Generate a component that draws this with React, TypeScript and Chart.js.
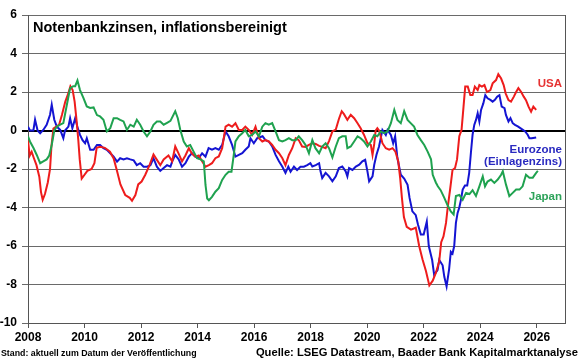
import React, { useEffect, useRef } from "react";
import { Chart, registerables } from "chart.js";

Chart.register(...registerables);

const titleText = "Notenbankzinsen, inflationsbereinigt";
const footerLeft = "Stand: aktuell zum Datum der Veröffentlichung";
const footerRight = "Quelle: LSEG Datastream, Baader Bank Kapitalmarktanalyse";

const xTickYears = [2008, 2010, 2012, 2014, 2016, 2018, 2020, 2022, 2024, 2026];
const yMin = -10;
const yMax = 6;
const yStep = 2;

// [year, value]
const usaSeries: [number, number][] = [
  [2008.0, -0.5], [2008.06, -1.3], [2008.13, -1.1], [2008.2, -1.4], [2008.3, -1.8], [2008.4, -2.4],
  [2008.46, -3.2], [2008.52, -3.6], [2008.6, -3.3], [2008.7, -2.7], [2008.78, -2.0], [2008.83, -0.8],
  [2008.9, 0.1], [2009.0, 0.2], [2009.1, 0.3], [2009.2, 0.8], [2009.32, 1.5], [2009.42, 1.9],
  [2009.5, 2.3], [2009.58, 2.1], [2009.65, 1.5], [2009.72, 0.5], [2009.78, -0.5], [2009.83, -1.5],
  [2009.9, -2.5], [2010.0, -2.3], [2010.1, -2.1], [2010.25, -2.0], [2010.35, -1.7], [2010.43, -0.9],
  [2010.55, -0.85], [2010.72, -0.9], [2010.9, -1.1], [2011.03, -1.45], [2011.15, -2.1], [2011.27, -2.8],
  [2011.44, -3.35], [2011.6, -3.5], [2011.68, -3.65], [2011.8, -3.35], [2011.9, -2.8], [2012.02, -2.65],
  [2012.15, -2.3], [2012.3, -1.8], [2012.44, -1.25], [2012.55, -1.5], [2012.68, -1.8], [2012.8, -1.5],
  [2012.97, -1.3], [2013.1, -1.6], [2013.21, -0.83], [2013.33, -1.2], [2013.45, -1.6], [2013.57, -1.3],
  [2013.69, -0.92], [2013.8, -1.2], [2013.92, -1.36], [2014.04, -1.3], [2014.16, -1.6], [2014.28, -1.88],
  [2014.4, -1.8], [2014.51, -1.7], [2014.63, -1.44], [2014.75, -1.35], [2014.87, -0.92], [2014.99, 0.2],
  [2015.1, 0.3], [2015.22, 0.2], [2015.34, 0.38], [2015.46, 0.03], [2015.58, 0.03], [2015.69, 0.2],
  [2015.81, 0.03], [2015.93, -0.23], [2016.05, 0.2], [2016.17, -0.4], [2016.29, -0.57], [2016.4, -0.5],
  [2016.52, -0.57], [2016.64, -0.75], [2016.76, -1.0], [2016.88, -1.18], [2017.0, -1.44], [2017.11, -1.8],
  [2017.23, -1.27], [2017.35, -0.92], [2017.47, -0.4], [2017.58, -0.5], [2017.7, -0.83], [2017.82, -0.85],
  [2017.94, -0.75], [2018.06, -0.66], [2018.18, -0.7], [2018.3, -0.8], [2018.41, -0.85], [2018.53, -0.92],
  [2018.65, -0.55], [2018.77, -0.05], [2018.89, 0.05], [2019.0, 0.6], [2019.1, 1.0], [2019.18, 0.85],
  [2019.3, 0.55], [2019.42, 0.82], [2019.54, 0.64], [2019.66, 0.38], [2019.77, 0.12], [2019.89, -0.23],
  [2020.01, -0.66], [2020.13, -0.75], [2020.19, -1.27], [2020.25, -0.7], [2020.3, 0.0], [2020.36, 0.12],
  [2020.42, 0.0], [2020.48, -0.3], [2020.54, -0.66], [2020.66, -0.92], [2020.78, -1.0], [2020.9, -0.92],
  [2021.0, -1.1], [2021.1, -1.6], [2021.17, -2.5], [2021.23, -3.5], [2021.3, -4.5], [2021.4, -5.0],
  [2021.55, -5.15], [2021.72, -5.05], [2021.84, -6.0], [2021.96, -6.7], [2022.08, -7.3], [2022.2, -8.05],
  [2022.32, -7.8], [2022.43, -7.4], [2022.55, -6.8], [2022.62, -5.8], [2022.7, -5.5], [2022.79, -4.8],
  [2022.85, -4.0], [2022.94, -3.0], [2023.02, -2.05], [2023.11, -1.95], [2023.18, -1.5], [2023.26, -0.3],
  [2023.34, 0.03], [2023.41, 1.24], [2023.47, 2.28], [2023.56, 2.28], [2023.65, 1.84], [2023.73, 1.84],
  [2023.81, 2.28], [2023.91, 2.1], [2023.97, 2.36], [2024.06, 2.28], [2024.15, 2.36], [2024.24, 2.0],
  [2024.36, 2.1], [2024.44, 2.45], [2024.56, 2.62], [2024.64, 2.93], [2024.74, 2.7], [2024.83, 2.36],
  [2024.9, 1.93], [2025.0, 1.58], [2025.09, 1.5], [2025.19, 1.76], [2025.27, 2.0], [2025.35, 2.2],
  [2025.45, 2.0], [2025.54, 1.76], [2025.62, 1.58], [2025.71, 1.24], [2025.8, 0.98], [2025.88, 1.24],
  [2025.98, 1.07],
];

const eurozoneSeries: [number, number][] = [
  [2008.0, 0.2], [2008.07, 0.0], [2008.19, 0.0], [2008.25, 0.56], [2008.34, 0.0], [2008.43, -0.14],
  [2008.54, 0.03], [2008.66, 0.3], [2008.78, 0.82], [2008.84, 1.34], [2008.93, 0.56], [2009.02, 0.2],
  [2009.14, 0.03], [2009.25, -0.4], [2009.31, 0.0], [2009.43, 0.2], [2009.49, 0.64], [2009.57, 0.12],
  [2009.67, 0.64], [2009.76, 0.12], [2009.84, -0.23], [2009.93, -0.5], [2010.02, -0.66], [2010.08, -0.4],
  [2010.2, -1.0], [2010.32, -1.0], [2010.44, -0.75], [2010.55, -0.75], [2010.67, -0.92], [2010.79, -1.0],
  [2010.91, -1.18], [2011.03, -1.36], [2011.15, -1.62], [2011.26, -1.44], [2011.38, -1.5], [2011.5, -1.44],
  [2011.62, -1.5], [2011.74, -1.55], [2011.85, -1.8], [2011.97, -1.7], [2012.09, -1.88], [2012.21, -1.88],
  [2012.33, -1.8], [2012.44, -1.44], [2012.56, -1.88], [2012.68, -2.1], [2012.8, -1.95], [2012.92, -1.8],
  [2013.04, -1.88], [2013.1, -1.62], [2013.21, -1.27], [2013.33, -1.5], [2013.45, -1.88], [2013.57, -1.7],
  [2013.69, -1.36], [2013.8, -1.18], [2013.92, -1.36], [2014.04, -1.44], [2014.16, -1.18], [2014.28, -1.36],
  [2014.39, -0.92], [2014.51, -1.0], [2014.63, -0.92], [2014.75, -1.0], [2014.87, -0.75], [2014.99, -0.05],
  [2015.1, -0.3], [2015.22, -0.75], [2015.34, -1.36], [2015.46, -1.27], [2015.58, -1.18], [2015.69, -1.0],
  [2015.81, -0.83], [2015.87, -0.4], [2015.99, -0.66], [2016.11, -0.4], [2016.3, -0.3], [2016.4, -0.5],
  [2016.52, -0.57], [2016.64, -0.83], [2016.76, -1.27], [2016.88, -1.6], [2017.0, -1.88], [2017.11, -2.2],
  [2017.21, -1.88], [2017.29, -2.14], [2017.41, -1.88], [2017.52, -2.05], [2017.64, -1.88], [2017.76, -1.88],
  [2017.88, -1.8], [2017.99, -1.7], [2018.06, -1.87], [2018.18, -1.8], [2018.3, -1.7], [2018.35, -2.12],
  [2018.41, -2.47], [2018.53, -2.2], [2018.65, -2.38], [2018.77, -2.64], [2018.89, -2.38], [2019.0, -1.95],
  [2019.12, -1.87], [2019.24, -2.12], [2019.3, -2.38], [2019.36, -1.95], [2019.48, -2.05], [2019.6, -1.87],
  [2019.72, -1.78], [2019.83, -1.6], [2019.93, -1.52], [2020.01, -2.12], [2020.07, -2.64], [2020.19, -2.38],
  [2020.25, -1.78], [2020.33, -1.26], [2020.42, -0.83], [2020.54, 0.03], [2020.66, -0.23], [2020.72, 0.03],
  [2020.84, -0.23], [2020.92, -0.66], [2020.99, -0.3], [2021.07, -1.43], [2021.19, -2.3], [2021.31, -2.5],
  [2021.43, -2.82], [2021.5, -3.5], [2021.6, -4.2], [2021.72, -4.4], [2021.8, -4.9], [2021.9, -5.4],
  [2022.0, -5.4], [2022.11, -4.73], [2022.18, -6.0], [2022.3, -6.73], [2022.37, -7.5], [2022.49, -7.25],
  [2022.55, -6.73], [2022.67, -7.0], [2022.73, -7.6], [2022.81, -8.1], [2022.9, -7.2], [2022.96, -6.3],
  [2023.02, -6.4], [2023.08, -6.0], [2023.14, -4.8], [2023.2, -4.28], [2023.26, -4.0], [2023.32, -3.59],
  [2023.38, -3.07], [2023.46, -2.86], [2023.54, -2.86], [2023.61, -2.2], [2023.67, -1.17], [2023.73, -0.22],
  [2023.79, 0.29], [2023.85, 0.55], [2023.91, 0.9], [2023.97, 0.47], [2024.03, 1.07], [2024.11, 1.41],
  [2024.18, 1.84], [2024.26, 1.67], [2024.36, 1.59], [2024.44, 1.5], [2024.52, 1.59], [2024.6, 1.76],
  [2024.68, 1.84], [2024.76, 1.24], [2024.86, 1.16], [2024.91, 0.81], [2025.0, 0.47], [2025.07, 0.64],
  [2025.15, 0.38], [2025.23, 0.29], [2025.33, 0.21], [2025.42, 0.12], [2025.51, 0.03], [2025.59, -0.05],
  [2025.68, -0.22], [2025.74, -0.4], [2025.82, -0.4], [2025.98, -0.36],
];

const japanSeries: [number, number][] = [
  [2008.0, -0.3], [2008.07, -0.57], [2008.19, -0.9], [2008.31, -1.27], [2008.43, -1.7], [2008.54, -1.6],
  [2008.66, -1.5], [2008.75, -1.3], [2008.84, -0.75], [2008.93, 0.0], [2009.02, 0.2], [2009.14, 0.3],
  [2009.25, 0.38], [2009.37, 1.3], [2009.49, 2.2], [2009.6, 2.3], [2009.67, 2.3], [2009.75, 2.6],
  [2009.84, 2.1], [2009.96, 1.7], [2010.08, 1.25], [2010.2, 1.17], [2010.32, 1.2], [2010.44, 0.8],
  [2010.55, 0.73], [2010.67, 0.56], [2010.79, -0.05], [2010.91, 0.12], [2011.03, 0.64], [2011.15, 0.64],
  [2011.26, 0.55], [2011.38, 0.47], [2011.5, 0.03], [2011.62, 0.3], [2011.74, 0.2], [2011.85, 0.56],
  [2011.97, 0.3], [2012.09, -0.05], [2012.21, -0.3], [2012.33, -0.05], [2012.44, 0.3], [2012.56, 0.47],
  [2012.68, 0.47], [2012.8, 0.3], [2012.92, 0.4], [2013.04, 0.5], [2013.21, 1.0], [2013.3, 0.64],
  [2013.39, 0.03], [2013.51, -0.57], [2013.62, -0.83], [2013.74, -0.75], [2013.86, -1.1], [2013.98, -1.44],
  [2014.1, -1.5], [2014.22, -1.6], [2014.28, -2.83], [2014.34, -3.53], [2014.4, -3.62], [2014.51, -3.45],
  [2014.63, -3.18], [2014.75, -3.0], [2014.87, -2.57], [2014.99, -2.3], [2015.1, -2.14], [2015.2, -2.14],
  [2015.28, -1.27], [2015.34, -0.57], [2015.46, -0.3], [2015.58, -0.14], [2015.69, 0.03], [2015.81, -0.3],
  [2015.93, -0.23], [2016.05, -0.05], [2016.17, -0.3], [2016.29, 0.2], [2016.4, 0.38], [2016.52, 0.3],
  [2016.64, 0.38], [2016.76, -0.05], [2016.88, -0.5], [2017.0, -0.57], [2017.11, -0.5], [2017.23, -0.4],
  [2017.35, -0.5], [2017.47, -0.5], [2017.58, -0.3], [2017.7, -0.5], [2017.82, -0.75], [2017.94, -1.18],
  [2018.06, -0.5], [2018.17, -0.92], [2018.3, -1.18], [2018.41, -0.83], [2018.53, -0.66], [2018.65, -0.92],
  [2018.77, -1.4], [2018.89, -0.83], [2019.0, -0.4], [2019.12, -0.3], [2019.24, -0.3], [2019.3, -0.92],
  [2019.42, -0.83], [2019.54, -0.57], [2019.66, -0.3], [2019.77, -0.4], [2019.89, -0.57], [2020.01, -0.83],
  [2020.13, -0.57], [2020.25, -0.23], [2020.36, -0.3], [2020.48, -0.05], [2020.6, -0.14], [2020.72, -0.05],
  [2020.84, 0.38], [2020.96, 1.07], [2021.07, 0.55], [2021.19, 0.38], [2021.31, 1.0], [2021.43, 0.55],
  [2021.54, 0.38], [2021.66, 0.2], [2021.78, -0.23], [2021.9, -0.5], [2022.02, -0.75], [2022.14, -1.1],
  [2022.26, -1.5], [2022.32, -2.3], [2022.43, -2.7], [2022.5, -2.9], [2022.6, -3.1], [2022.73, -3.5],
  [2022.85, -3.9], [2022.96, -4.2], [2023.06, -4.36], [2023.14, -3.4], [2023.26, -3.35], [2023.38, -3.6],
  [2023.5, -3.24], [2023.62, -3.3], [2023.73, -3.1], [2023.85, -3.4], [2023.97, -2.9], [2024.09, -2.38],
  [2024.17, -2.9], [2024.26, -2.65], [2024.38, -2.55], [2024.5, -2.72], [2024.62, -2.55], [2024.74, -2.3],
  [2024.8, -2.12], [2024.91, -2.8], [2025.03, -3.41], [2025.15, -3.24], [2025.27, -3.07], [2025.39, -3.07],
  [2025.5, -2.9], [2025.62, -2.3], [2025.74, -2.45], [2025.86, -2.45], [2025.98, -2.2], [2026.04, -2.1],
];

const colUSA = "#ee1c1c";
const colEZ = "#1414d2";
const colJP = "#1fa24f";
const colUSAText = "#e63232";
const colEZText = "#2a2ac0";
const colJPText = "#2da35a";

const FONT = 'Arial, "Liberation Sans", sans-serif';

export default function App() {
  const ref = useRef<HTMLCanvasElement | null>(null);

  useEffect(() => {
    const canvas = ref.current;
    if (!canvas) return;

    const textPlugin = {
      id: "textPlugin",
      afterDraw(chart: any) {
        const { ctx, chartArea } = chart;
        const y = chart.scales.y;
        ctx.save();
        // right frame line
        ctx.strokeStyle = "#555";
        ctx.lineWidth = 1;
        ctx.beginPath();
        ctx.moveTo(chartArea.right + 0.5, chartArea.top);
        ctx.lineTo(chartArea.right + 0.5, chartArea.bottom);
        ctx.stroke();

        // title
        ctx.fillStyle = "#000";
        ctx.textAlign = "left";
        ctx.textBaseline = "alphabetic";
        ctx.font = `bold 14.5px ${FONT}`;
        ctx.fillText(titleText, chartArea.left + 5, chartArea.top + 17);

        // series labels
        const rx = chartArea.right - 3;
        ctx.textAlign = "right";
        ctx.font = `bold 11.5px ${FONT}`;
        ctx.fillStyle = colUSAText;
        ctx.fillText("USA", rx, y.getPixelForValue(2.25));
        ctx.fillStyle = colEZText;
        ctx.fillText("Eurozone", rx, y.getPixelForValue(-1.17));
        ctx.fillText("(Einlagenzins)", rx, y.getPixelForValue(-1.8));
        ctx.fillStyle = colJPText;
        ctx.fillText("Japan", rx, y.getPixelForValue(-3.6));

        // footer
        ctx.fillStyle = "#000";
        ctx.textAlign = "left";
        ctx.font = `bold 8.8px ${FONT}`;
        ctx.fillText(footerLeft, 1, chart.height - 3);
        ctx.textAlign = "right";
        ctx.font = `bold 11.2px ${FONT}`;
        ctx.fillText(footerRight, chart.width - 2, chart.height - 3);
        ctx.restore();
      },
    };

    const mk = (label: string, series: [number, number][], color: string) => ({
      label,
      data: series.map(([x, v]) => ({ x, y: v })),
      borderColor: color,
      backgroundColor: color,
      borderWidth: 2,
      pointRadius: 0,
      tension: 0,
      fill: false,
    });

    const chart = new Chart(canvas, {
      type: "line",
      data: {
        datasets: [
          mk("Japan", japanSeries, colJP),
          mk("USA", usaSeries, colUSA),
          mk("Eurozone (Einlagenzins)", eurozoneSeries, colEZ),
        ],
      },
      options: {
        responsive: false,
        animation: false,
        events: [],
        layout: { padding: { top: 15, right: 15, left: 0, bottom: 0 } },
        plugins: { legend: { display: false }, tooltip: { enabled: false }, title: { display: false } },
        scales: {
          x: {
            type: "linear",
            min: 2008,
            max: 2027,
            afterBuildTicks: (s: any) => {
              s.ticks = xTickYears.map((v) => ({ value: v }));
            },
            afterFit: (s: any) => {
              s.height = 36;
            },
            ticks: {
              autoSkip: false,
              maxRotation: 0,
              padding: 2,
              color: "#000",
              font: { family: FONT, size: 12, weight: "bold" },
              callback: (v: any) => String(v),
            },
            grid: { display: true, drawOnChartArea: false, drawTicks: true, tickLength: 5, color: "#555" },
            border: { display: true, color: "#555", width: 1 },
          },
          y: {
            type: "linear",
            min: yMin,
            max: yMax,
            afterFit: (s: any) => {
              s.width = 28;
            },
            ticks: {
              stepSize: yStep,
              padding: 5,
              color: "#000",
              font: { family: FONT, size: 12, weight: "bold" },
              callback: (v: any) => String(v),
            },
            grid: {
              display: true,
              drawOnChartArea: true,
              drawTicks: true,
              tickLength: 6,
              color: (c: any) => (c.tick && c.tick.value === 0 ? "#000" : "#6a6a6a"),
              lineWidth: (c: any) => (c.tick && c.tick.value === 0 ? 2 : 1),
            },
            border: { display: true, color: "#555", width: 1 },
          },
        },
      },
      plugins: [textPlugin],
    } as any);

    return () => chart.destroy();
  }, []);

  return (
    <div style={{ position: "absolute", left: 0, top: 0, width: 580, height: 359, background: "#fff" }}>
      <canvas ref={ref} width={580} height={359} style={{ display: "block", width: 580, height: 359 }} />
    </div>
  );
}
